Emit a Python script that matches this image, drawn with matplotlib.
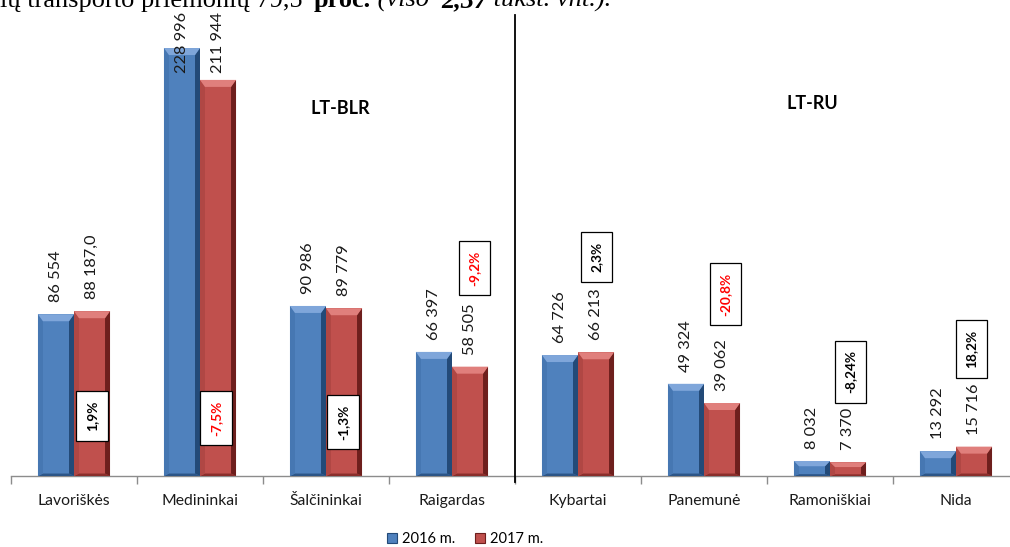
import matplotlib
matplotlib.use("Agg")
import matplotlib.pyplot as plt
from matplotlib.patches import Polygon, Patch
import numpy as np

categories = ["Lavoriškės", "Medininkai", "Šalčininkai", "Raigardas",
              "Kybartai", "Panemunė", "Ramoniškiai", "Nida"]
v2016 = [86554, 228996, 90986, 66397, 64726, 49324, 8032, 13292]
v2017 = [88187.0, 211944, 89779, 58505, 66213, 39062, 7370, 15716]
labels2016 = ["86 554", "228 996", "90 986", "66 397", "64 726", "49 324", "8 032", "13 292"]
labels2017 = ["88 187,0", "211 944", "89 779", "58 505", "66 213", "39 062", "7 370", "15 716"]
pct_labels = ["1,9%", "-7,5%", "-1,3%", "-9,2%", "2,3%", "-20,8%", "-8,24%", "18,2%"]
pct_red = [False, True, False, True, False, True, False, False]
series_names = ["2016 m.", "2017 m."]
group_names = ["LT-BLR", "LT-RU"]

# layout (annotation positions in data coords)
pct_pos = [(0.143, 32100), (1.127, 31030), (2.135, 28900), (3.18, 111300),
           (4.15, 117200), (5.17, 97400), (6.16, 55650), (7.12, 67950)]
group_pos = [(2.11, 196900), (5.857, 199570)]

W, H = 1010, 547
fig = plt.figure(figsize=(W / 100, H / 100), dpi=100)
ax = fig.add_axes([11 / W, 71 / H, 1008 / W, 476 / H])
ax.set_xlim(-0.5, 7.5)
ax.set_ylim(0, 254700)

FONT = "Lato"
bw = 0.286
x = np.arange(len(categories))

blue = dict(main="#4F81BD", top="#7FA6DA", left="#4677B2", right="#234A78", bot="#2C5587")
red = dict(main="#C0504D", top="#E07F7C", left="#B04744", right="#6E1F1D", bot="#8A2E2B")

b1 = ax.bar(x - bw / 2, v2016, bw, color=blue["main"], linewidth=0, zorder=2)
b2 = ax.bar(x + bw / 2, v2017, bw, color=red["main"], linewidth=0, zorder=2)

bx = 5 / 126
by_full = 7 / 0.001869
for bars, c in ((b1, blue), (b2, red)):
    for p in bars:
        x0 = p.get_x(); x1 = x0 + p.get_width(); h = p.get_height()
        by = min(by_full, h * 0.35)
        bb = min(by_full * 0.35, h * 0.12)
        polys = [
            ([(x0, 0), (x0 + bx, bb), (x1 - bx, bb), (x1, 0)], c["bot"]),
            ([(x0, h), (x0 + bx, h - by), (x0 + bx, bb), (x0, 0)], c["left"]),
            ([(x1, h), (x1 - bx, h - by), (x1 - bx, bb), (x1, 0)], c["right"]),
            ([(x0, h), (x1, h), (x1 - bx, h - by), (x0 + bx, h - by)], c["top"]),
        ]
        for pts, col in polys:
            ax.add_patch(Polygon(pts, closed=True, facecolor=col, edgecolor="none", zorder=3))

cap = 209200
for bars, labs in ((b1, labels2016), (b2, labels2017)):
    for p, lab in zip(bars, labs):
        xc = p.get_x() + p.get_width() / 2
        yv = min(p.get_height(), cap)
        ax.annotate(lab, (xc, yv), xytext=(0, 8.6), textcoords="offset points",
                    rotation=90, ha="center", va="bottom", fontsize=11.8,
                    family=FONT, color="#1a1a1a", zorder=5)

for (px, py), lab, isred in zip(pct_pos, pct_labels, pct_red):
    ax.text(px, py, lab, rotation=90, ha="center", va="center", fontsize=9.8,
            fontweight="bold", family=FONT, color="#FF0000" if isred else "black",
            zorder=6,
            bbox=dict(boxstyle="square,pad=0.7", facecolor="white", edgecolor="black", linewidth=0.9))

for (gx, gy), g in zip(group_pos, group_names):
    ax.text(gx, gy, g, ha="center", va="center", fontsize=13, fontweight="bold", family=FONT)

# separator
ax.plot([3.5, 3.5], [-3300, 246650], color="black", linewidth=1.3, clip_on=False, zorder=4)

# axes styling
for s in ("top", "right", "left"):
    ax.spines[s].set_visible(False)
ax.spines["bottom"].set_color("#8c8c8c")
ax.spines["bottom"].set_linewidth(1.0)
ax.set_yticks([])
ax.set_xticks(np.arange(-0.5, 8.0, 1.0))
ax.set_xticklabels([])
ax.tick_params(axis="x", which="major", length=6, color="#8c8c8c", width=1.0)
ax.set_xticks(x, minor=True)
ax.set_xticklabels(categories, minor=True, fontsize=11.3, family=FONT, color="#1a1a1a")
ax.tick_params(axis="x", which="minor", length=0, pad=13)

# legend
handles = [Patch(facecolor=blue["main"], edgecolor=blue["right"], linewidth=0.8),
           Patch(facecolor=red["main"], edgecolor=red["right"], linewidth=0.8)]
fig.legend(handles, series_names, loc="center", bbox_to_anchor=(465 / W, 1 - 539 / H),
           ncol=2, frameon=False, prop=dict(family=FONT, size=10.5),
           handlelength=0.7, handleheight=0.7, handletextpad=0.3, columnspacing=1.4)

# header text cut at top
fig.canvas.draw()
r = fig.canvas.get_renderer()
pieces = [("ių transporto priemonių 79,5 ", "normal", "normal"),
          ("proc.", "bold", "normal"),
          (" (viso ", "normal", "italic"),
          ("2,37", "bold", "italic"),
          (" tūkst. vnt.).", "normal", "italic")]
xp = 0.0
for txt, wt, st in pieces:
    t = fig.text(xp / W, 1 - 7 / H, txt, ha="left", va="baseline", fontsize=19,
                 family="Liberation Serif", fontweight=wt, fontstyle=st)
    bbx = t.get_window_extent(renderer=r)
    xp += bbx.width + (5 if txt.endswith(" ") else 0)

fig.savefig("out.png", dpi=100)
